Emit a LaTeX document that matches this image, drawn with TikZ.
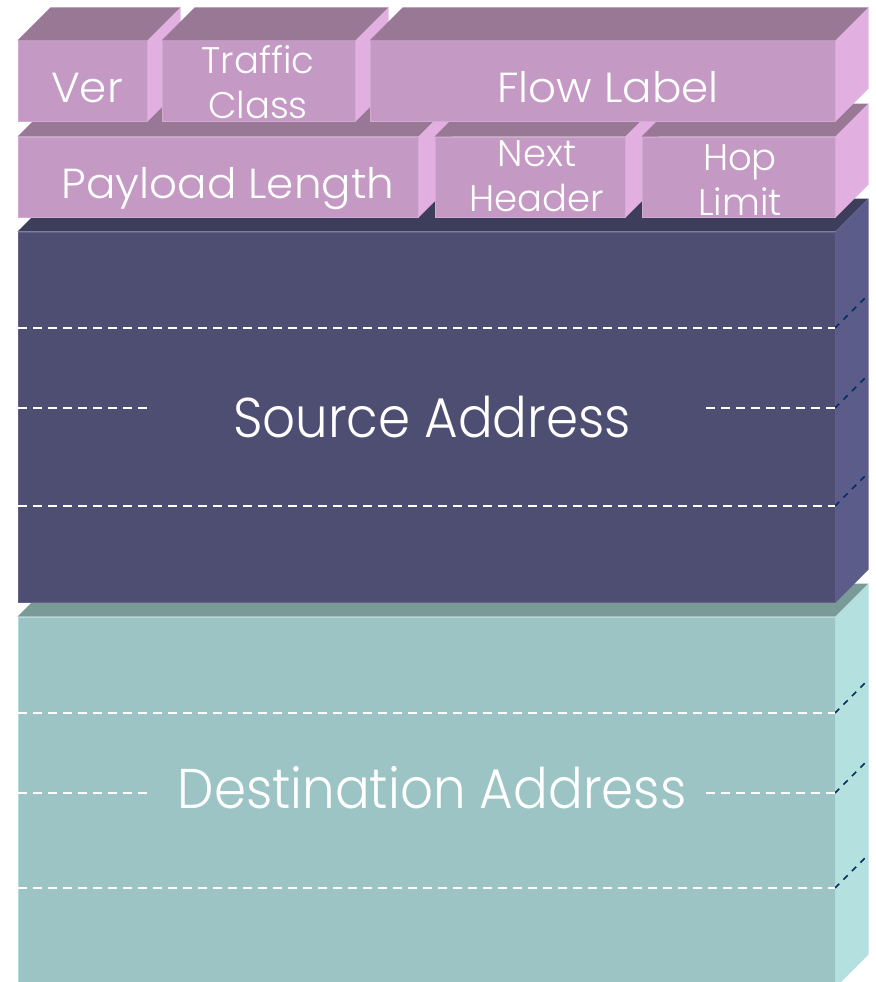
\documentclass[tikz,border=0pt]{standalone}
\usepackage{fontspec}
\setmainfont{Poppins}[UprightFont=* Light]
\newfontfamily\widefont{Poppins}[UprightFont=* Light, FakeStretch=1.04]
\newfontfamily\narrowfont{Poppins}[UprightFont=* Light, FakeStretch=0.92]
\usetikzlibrary{calc}

% face colours of the three kinds of block
\definecolor{hdrfront}{RGB}{196,154,196}
\definecolor{hdrtop}{RGB}{152,120,148}
\definecolor{hdrside}{RGB}{226,176,224}
\definecolor{hdredge}{RGB}{208,170,208}
\definecolor{srcfront}{RGB}{78,78,114}
\definecolor{srctop}{RGB}{61,61,92}
\definecolor{srcside}{RGB}{92,92,138}
\definecolor{srcedge}{RGB}{100,96,140}
\definecolor{dstfront}{RGB}{156,196,196}
\definecolor{dsttop}{RGB}{122,154,152}
\definecolor{dstside}{RGB}{180,224,224}
\definecolor{dstedge}{RGB}{176,220,220}
\definecolor{sidedash}{RGB}{0,48,95}

% top and right faces of a block whose front face is node #1
\newcommand{\blockfaces}[3]{%
  \fill[#2] (#1.north west) -- ++(33,-33) -- ($(#1.north east)+(33,-33)$)
    -- (#1.north east) -- cycle;
  \fill[#3] (#1.north east) -- ++(33,-33) -- ($(#1.south east)+(33,-33)$)
    -- (#1.south east) -- cycle;
}

\begin{document}
\begin{tikzpicture}[x=1pt,y=-1pt,
  front/.style={rectangle, inner sep=0pt, line width=1pt},
  hdr/.style={front, fill=hdrfront, draw=hdredge, minimum height=80pt},
  lbl/.style={text=white, inner sep=0pt, align=center},
  small/.style={lbl, font=\widefont\fontsize{42}{45}\selectfont},
  twoline/.style={lbl, font=\fontsize{37}{45}\selectfont},
  big/.style={lbl, font=\narrowfont\fontsize{56}{60}\selectfont},
  rowline/.style={white, line width=1.6pt, dash pattern=on 9pt off 6pt},
  sideline/.style={sidedash, line width=1.6pt, dash pattern=on 6pt off 6pt}]

\useasboundingbox (0,0) rectangle (875,982);

% ---- destination address block ----
\node[front, fill=dstfront, draw=dstedge, minimum width=817pt, minimum height=370pt]
  (dst) at (426.5,802) {};
\blockfaces{dst}{dsttop}{dstside}
\foreach \y/\n in {713/a, 793/b, 888/c} {
  \coordinate (dl\n) at (18,\y);
  \coordinate (dr\n) at (835,\y);
  \draw[sideline] (dr\n) -- ++(33,-33);
}
\draw[rowline] (dla) -- (dra);
\draw[rowline] (dlc) -- (drc);
\draw[rowline] (dlb) -- ++(130,0);
\draw[rowline] (drb) -- ++(-130,0);
\node[big, anchor=base] (dsttext) at (432,808) {Destination Address};

% ---- source address block ----
\node[front, fill=srcfront, draw=srcedge, minimum width=817pt, minimum height=370pt]
  (src) at (426.5,417) {};
\blockfaces{src}{srctop}{srcside}
\foreach \y/\n in {328/a, 408/b, 506/c} {
  \coordinate (sl\n) at (18,\y);
  \coordinate (sr\n) at (835,\y);
  \draw[sideline] (sr\n) -- ++(33,-33);
}
\draw[rowline] (sla) -- (sra);
\draw[rowline] (slc) -- (src);
\draw[rowline] (slb) -- ++(130,0);
\draw[rowline] (srb) -- ++(-130,0);
\node[big, anchor=base] (srctext) at (432,437) {Source Address};

% ---- second header row ----
\node[hdr, minimum width=400pt] (payload) at (218,177) {};
\blockfaces{payload}{hdrtop}{hdrside}
\node[small, anchor=base] at (228,198) {Payload Length};

\node[hdr, minimum width=190pt] (next) at (530,177) {};
\blockfaces{next}{hdrtop}{hdrside}
\node[twoline] at (537,176) {Next\\Header};

\node[hdr, minimum width=193pt] (hop) at (738.5,177) {};
\blockfaces{hop}{hdrtop}{hdrside}
\node[twoline] at (740,180) {Hop\\Limit};

% ---- first header row ----
\node[hdr, minimum width=129pt] (ver) at (82.5,81) {};
\blockfaces{ver}{hdrtop}{hdrside}
\node[small, anchor=base] at (87,102) {Ver};

\node[hdr, minimum width=193pt] (tc) at (258.5,81) {};
\blockfaces{tc}{hdrtop}{hdrside}
\node[twoline] at (258,82) {Traffic\\Class};

\node[hdr, minimum width=465pt] (flow) at (602.5,81) {};
\blockfaces{flow}{hdrtop}{hdrside}
\node[small, anchor=base] at (608,102) {Flow Label};

\end{tikzpicture}
\end{document}
